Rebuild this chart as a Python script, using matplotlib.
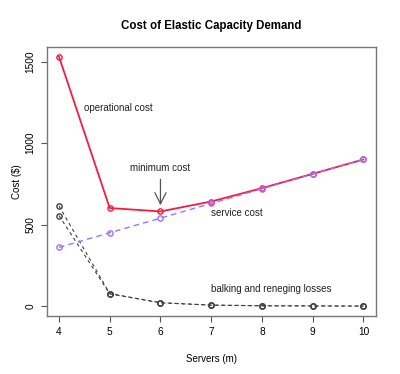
import matplotlib.pyplot as plt
import numpy as np

plt.rcParams['font.family'] = ['Liberation Sans', 'DejaVu Sans']

servers = [4, 5, 6, 7, 8, 9, 10]
service_cost = [360, 450, 540, 630, 720, 810, 900]
balking_loss = [615, 77, 21, 6, 2, 1, 0]
reneging_loss = [556, 75, 20, 6, 2, 1, 0]
operational_cost = [1531, 602, 581, 642, 724, 812, 900]

RED = '#f81a40'
PURPLE = '#a070ff'
GRAY = '#404040'


def main():
    fig = plt.figure(figsize=(4.0, 3.74), dpi=100)
    ax = fig.add_axes([0.117, 0.155, 0.822, 0.72])

    mk = dict(marker='o', markersize=3.8, markerfacecolor='none', markeredgewidth=1.0)
    ax.plot(servers, balking_loss, color=GRAY, lw=0.8, dashes=(3, 3), markeredgecolor=GRAY, **mk)
    ax.plot(servers, reneging_loss, color=GRAY, lw=0.8, dashes=(3, 3), markeredgecolor=GRAY, **mk)
    ax.plot(servers, operational_cost, color=RED, lw=1.3, markeredgecolor=RED, **mk)
    ax.plot(servers, service_cost, color=PURPLE, lw=1.0, dashes=(4, 3), markeredgecolor=PURPLE, **mk)

    ax.annotate('', xy=(6, 602), xytext=(6, 795),
                arrowprops=dict(arrowstyle='->', color='#555555', lw=0.9, mutation_scale=20))

    fs = 7
    ax.text(4.49, 1216, 'operational cost', fontsize=fs, va='center', ha='left', color='#222222')
    ax.text(6.0, 848, 'minimum cost', fontsize=fs, va='center', ha='center', color='#222222')
    ax.text(7.0, 569, 'service cost', fontsize=fs, va='center', ha='left', color='#222222')
    ax.text(7.0, 107, 'balking and reneging losses', fontsize=fs, va='center', ha='left', color='#222222')

    ax.set_xlim(3.76, 10.24)
    ax.set_ylim(-61, 1592)
    ax.set_xticks(servers)
    ax.set_yticks([0, 500, 1000, 1500])
    ax.set_yticklabels(['0', '500', '1000', '1500'], rotation=90, va='center')
    ax.tick_params(labelsize=7.3, length=4, width=0.8, color='#555555', pad=4)

    for sp in ax.spines.values():
        sp.set_color('#777777')
        sp.set_linewidth(1.0)

    ax.set_title('Cost of Elastic Capacity Demand', fontsize=8.3, fontweight='bold', pad=13)
    ax.set_xlabel('Servers (m)', fontsize=fs, labelpad=12)
    ax.set_ylabel('Cost (\\$)', fontsize=fs, labelpad=3)

    fig.savefig('out.png', dpi=100)


if __name__ == '__main__':
    main()
